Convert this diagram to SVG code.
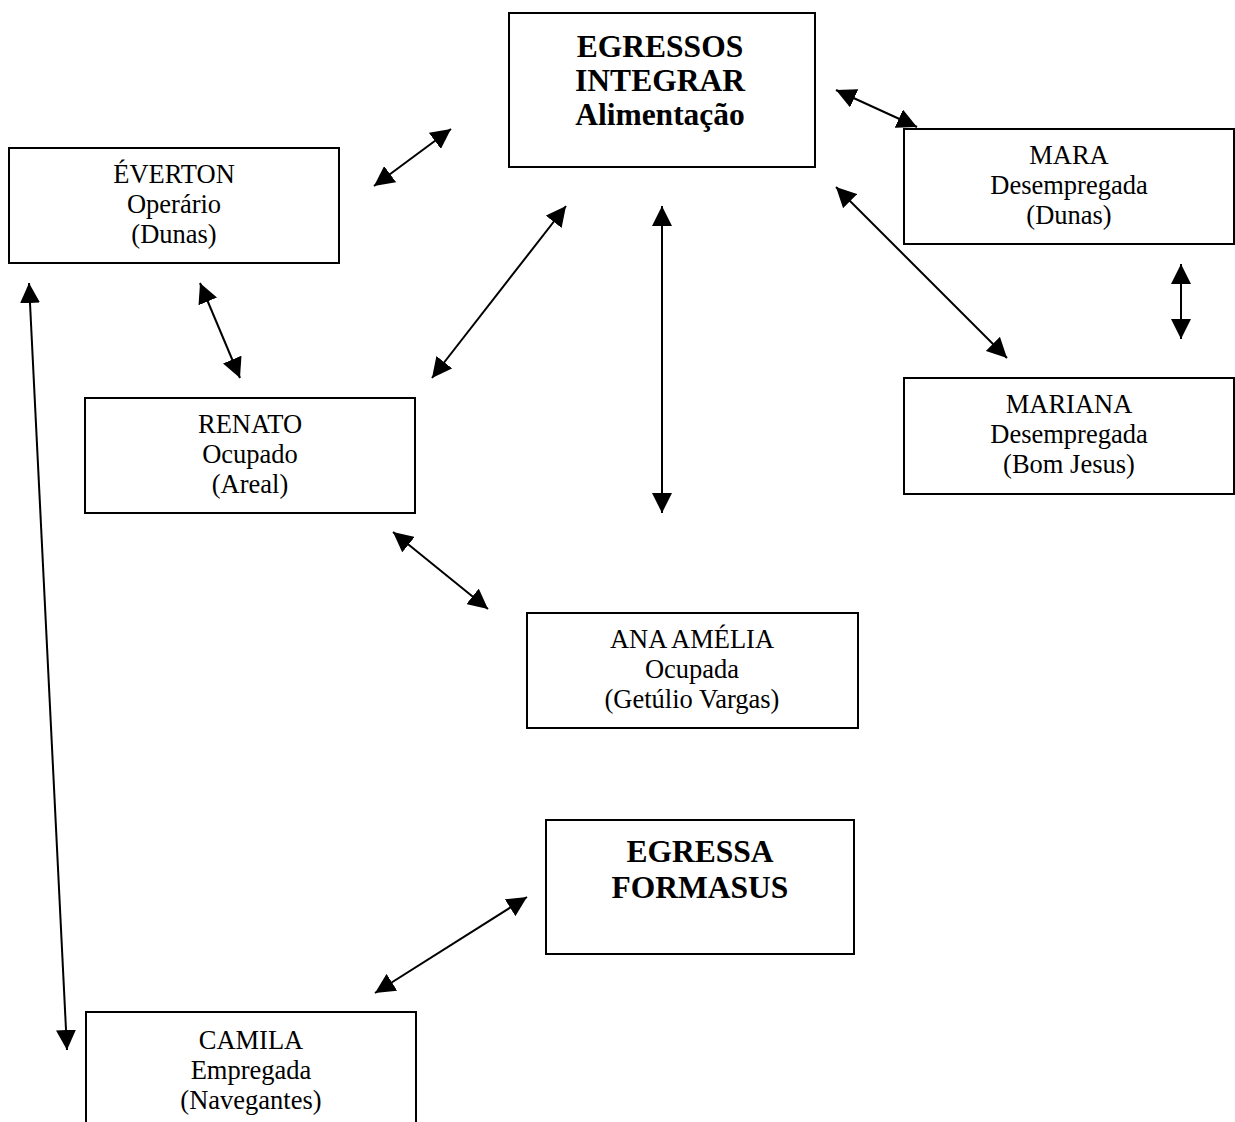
<svg xmlns="http://www.w3.org/2000/svg" width="1235" height="1122" viewBox="0 0 1235 1122">
<style>
.box{fill:#fff;stroke:#000;stroke-width:2}
.t{font-family:"Liberation Serif","Times New Roman",serif;font-size:26.5px;fill:#000;text-anchor:middle}
.b{font-family:"Liberation Serif","Times New Roman",serif;font-size:31.5px;font-weight:bold;fill:#000;text-anchor:middle}
.c{stroke:#000;stroke-width:2;fill:none;marker-start:url(#ah);marker-end:url(#ah)}
</style>
<defs>
<marker id="ah" markerUnits="userSpaceOnUse" markerWidth="20" markerHeight="20" refX="20" refY="10" orient="auto-start-reverse" viewBox="0 0 20 20">
<path d="M0,0 L20,10 L0,20 z" fill="#000"/>
</marker>
</defs>
<rect width="1235" height="1122" fill="#fff"/>
<g id="egressos">
<rect class="box" x="509" y="13" width="306" height="154"/>
<text class="b" x="660" y="57">EGRESSOS</text>
<text class="b" x="660" y="91">INTEGRAR</text>
<text class="b" x="660" y="125">Alimentação</text>
</g>
<g id="everton">
<rect class="box" x="9" y="148" width="330" height="115"/>
<text class="t" x="174" y="183">ÉVERTON</text>
<text class="t" x="174" y="213">Operário</text>
<text class="t" x="174" y="243">(Dunas)</text>
</g>
<g id="mara">
<rect class="box" x="904" y="129" width="330" height="115"/>
<text class="t" x="1069" y="164">MARA</text>
<text class="t" x="1069" y="194">Desempregada</text>
<text class="t" x="1069" y="224">(Dunas)</text>
</g>
<g id="mariana">
<rect class="box" x="904" y="378" width="330" height="116"/>
<text class="t" x="1069" y="413">MARIANA</text>
<text class="t" x="1069" y="443">Desempregada</text>
<text class="t" x="1069" y="473">(Bom Jesus)</text>
</g>
<g id="renato">
<rect class="box" x="85" y="398" width="330" height="115"/>
<text class="t" x="250" y="433">RENATO</text>
<text class="t" x="250" y="463">Ocupado</text>
<text class="t" x="250" y="493">(Areal)</text>
</g>
<g id="ana">
<rect class="box" x="527" y="613" width="331" height="115"/>
<text class="t" x="692" y="648">ANA AMÉLIA</text>
<text class="t" x="692" y="678">Ocupada</text>
<text class="t" x="692" y="708">(Getúlio Vargas)</text>
</g>
<g id="formasus">
<rect class="box" x="546" y="820" width="308" height="134"/>
<text class="b" x="700" y="862">EGRESSA</text>
<text class="b" x="700" y="898">FORMASUS</text>
</g>
<g id="camila">
<rect class="box" x="86" y="1012" width="330" height="130"/>
<text class="t" x="251" y="1049">CAMILA</text>
<text class="t" x="251" y="1079">Empregada</text>
<text class="t" x="251" y="1109">(Navegantes)</text>
</g>
<g id="connectors">
<line class="c" x1="374" y1="186" x2="451" y2="129"/>
<line class="c" x1="836" y1="90" x2="917" y2="127"/>
<line class="c" x1="566" y1="206" x2="432" y2="378"/>
<line class="c" x1="662" y1="206" x2="662" y2="513"/>
<line class="c" x1="836" y1="187" x2="1007" y2="358"/>
<line class="c" x1="1181" y1="264" x2="1181" y2="339"/>
<line class="c" x1="200" y1="283" x2="240" y2="378"/>
<line class="c" x1="393" y1="532" x2="488" y2="609"/>
<line class="c" x1="29" y1="283" x2="67" y2="1050"/>
<line class="c" x1="527" y1="897" x2="375" y2="993"/>
</g>
</svg>
